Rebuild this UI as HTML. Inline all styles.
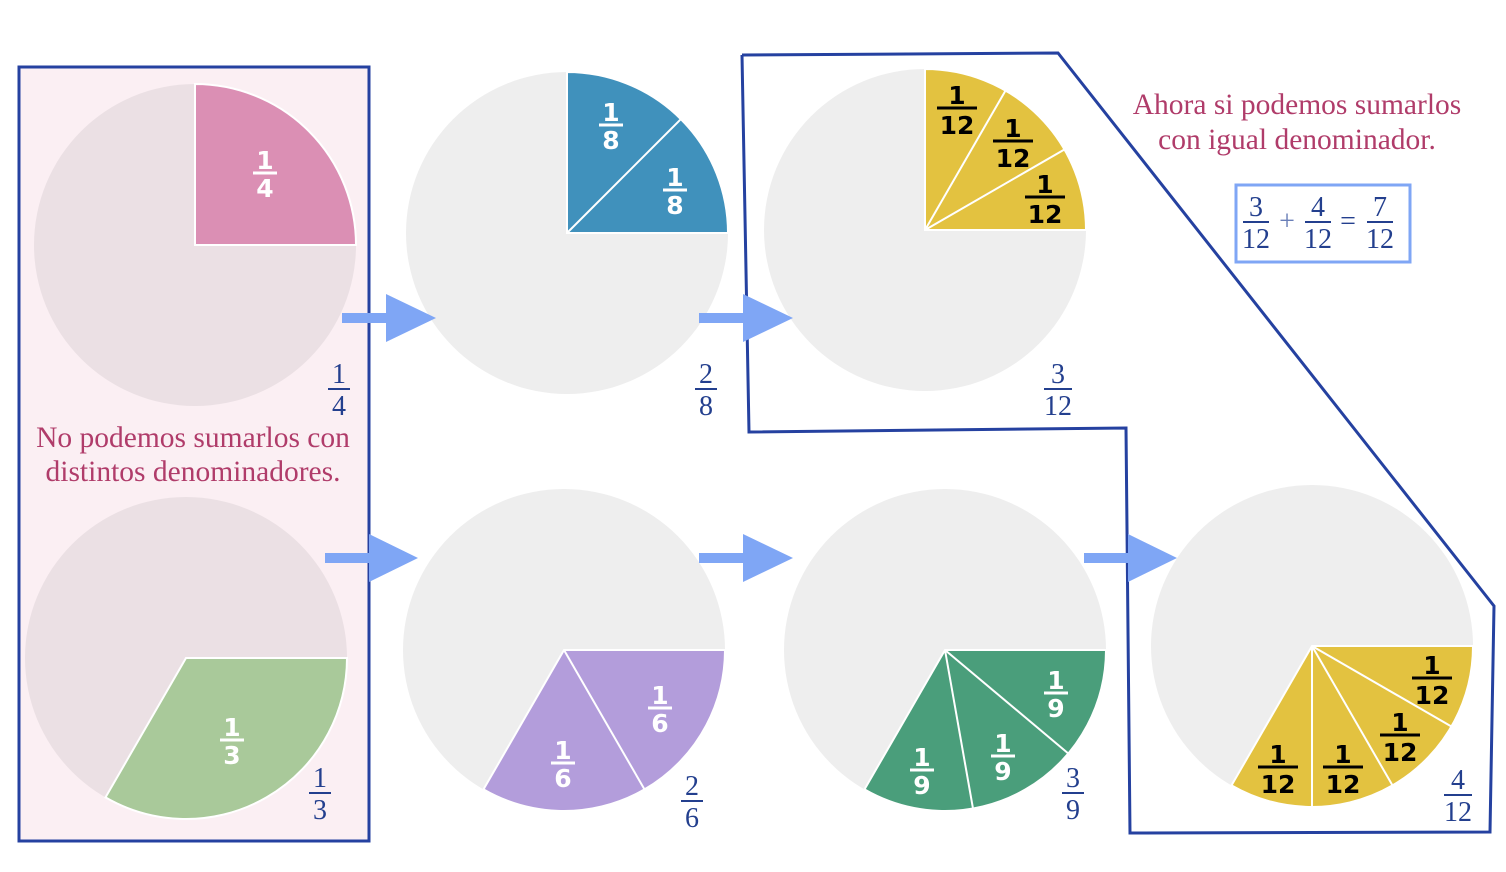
<!DOCTYPE html>
<html><head><meta charset="utf-8"><style>
html,body{margin:0;padding:0;background:#fff;}
svg{display:block;}
.w text{font-family:"DejaVu Sans",sans-serif;font-weight:bold;font-size:25px;fill:#fff;text-anchor:middle;}
.w line{stroke:#fff;stroke-width:3;}
.k text{font-family:"DejaVu Sans",sans-serif;font-weight:bold;font-size:25px;fill:#000;text-anchor:middle;}
.k line{stroke:#000;stroke-width:3;}
.n text{font-family:"Liberation Serif",serif;font-size:28px;fill:#233f8e;text-anchor:middle;}
.n line{stroke:#233f8e;stroke-width:2;}
.t{font-family:"Liberation Serif",serif;font-size:29.5px;fill:#b03c6a;text-anchor:middle;}
</style></head><body>
<svg width="1506" height="872" viewBox="0 0 1506 872" xmlns="http://www.w3.org/2000/svg">
<rect x="19" y="67" width="350" height="774" fill="#fbeff3" stroke="#2541a0" stroke-width="3"/>
<polyline points="742,55 1058,53 1494,606 1490,832 1130,833 1126,428 749,432 742,55" fill="none" stroke="#2541a0" stroke-width="3"/>

<circle cx="195" cy="245" r="161" fill="#ebe0e4"/>
<path d="M195,245 L356,245 A161,161 0 0 0 195,84 Z" fill="#db8fb4" stroke="#fff" stroke-width="2"/>
<circle cx="186" cy="658" r="161" fill="#ebe0e4"/>
<path d="M186,658 L347,658 A161,161 0 0 1 105.5,797.4 Z" fill="#a9c99a" stroke="#fff" stroke-width="2"/>

<circle cx="567" cy="233" r="161" fill="#eeeeee"/>
<path d="M567,233 L728,233 A161,161 0 0 0 567,72 Z" fill="#4091bc" stroke="#fff" stroke-width="2"/>
<line x1="567" y1="233" x2="680.8" y2="119.2" stroke="#fff" stroke-width="2"/>

<circle cx="925" cy="230" r="161" fill="#eeeeee"/>
<path d="M925,230 L1086,230 A161,161 0 0 0 925,69 Z" fill="#e3c240" stroke="#fff" stroke-width="2"/>
<line x1="925" y1="230" x2="1064.4" y2="149.5" stroke="#fff" stroke-width="2"/>
<line x1="925" y1="230" x2="1005.5" y2="90.6" stroke="#fff" stroke-width="2"/>

<circle cx="564" cy="650" r="161" fill="#eeeeee"/>
<path d="M564,650 L725,650 A161,161 0 0 1 483.5,789.4 Z" fill="#b39ddb" stroke="#fff" stroke-width="2"/>
<line x1="564" y1="650" x2="644.5" y2="789.4" stroke="#fff" stroke-width="2"/>

<circle cx="945" cy="650" r="161" fill="#eeeeee"/>
<path d="M945,650 L1106,650 A161,161 0 0 1 864.5,789.4 Z" fill="#4a9e7b" stroke="#fff" stroke-width="2"/>
<line x1="945" y1="650" x2="1068.3" y2="753.5" stroke="#fff" stroke-width="2"/>
<line x1="945" y1="650" x2="973" y2="808.6" stroke="#fff" stroke-width="2"/>

<circle cx="1312" cy="646" r="161" fill="#eeeeee"/>
<path d="M1312,646 L1473,646 A161,161 0 0 1 1231.5,785.4 Z" fill="#e3c240" stroke="#fff" stroke-width="2"/>
<line x1="1312" y1="646" x2="1451.4" y2="726.5" stroke="#fff" stroke-width="2"/>
<line x1="1312" y1="646" x2="1392.5" y2="785.4" stroke="#fff" stroke-width="2"/>
<line x1="1312" y1="646" x2="1312" y2="807" stroke="#fff" stroke-width="2"/>

<g fill="#7fa6f5">
<rect x="342" y="313" width="48" height="10"/><polygon points="386,294 436,318 386,342"/>
<rect x="699" y="313" width="48" height="10"/><polygon points="743,294 793,318 743,342"/>
<rect x="325" y="553" width="48" height="10"/><polygon points="369,534 418,558 369,582"/>
<rect x="699" y="553" width="48" height="10"/><polygon points="743,534 793,558 743,582"/>
<rect x="1084" y="553" width="48" height="10"/><polygon points="1128,534 1177,558 1128,582"/>
</g>

<g class="w">
<g transform="translate(265,173)"><text y="-4">1</text><line x1="-12" x2="12"/><text y="24">4</text></g>
<g transform="translate(611,125)"><text y="-4">1</text><line x1="-12" x2="12"/><text y="24">8</text></g>
<g transform="translate(675,190)"><text y="-4">1</text><line x1="-12" x2="12"/><text y="24">8</text></g>
<g transform="translate(232,740)"><text y="-4">1</text><line x1="-12" x2="12"/><text y="24">3</text></g>
<g transform="translate(660,708)"><text y="-4">1</text><line x1="-12" x2="12"/><text y="24">6</text></g>
<g transform="translate(563,763)"><text y="-4">1</text><line x1="-12" x2="12"/><text y="24">6</text></g>
<g transform="translate(1056,693)"><text y="-4">1</text><line x1="-12" x2="12"/><text y="24">9</text></g>
<g transform="translate(1003,756)"><text y="-4">1</text><line x1="-12" x2="12"/><text y="24">9</text></g>
<g transform="translate(922,770)"><text y="-4">1</text><line x1="-12" x2="12"/><text y="24">9</text></g>
</g>
<g class="k">
<g transform="translate(957,108)"><text y="-4">1</text><line x1="-20" x2="20"/><text y="26">12</text></g>
<g transform="translate(1013,141)"><text y="-4">1</text><line x1="-20" x2="20"/><text y="26">12</text></g>
<g transform="translate(1045,197)"><text y="-4">1</text><line x1="-20" x2="20"/><text y="26">12</text></g>
<g transform="translate(1432,678)"><text y="-4">1</text><line x1="-20" x2="20"/><text y="26">12</text></g>
<g transform="translate(1400,735)"><text y="-4">1</text><line x1="-20" x2="20"/><text y="26">12</text></g>
<g transform="translate(1343,767)"><text y="-4">1</text><line x1="-20" x2="20"/><text y="26">12</text></g>
<g transform="translate(1278,767)"><text y="-4">1</text><line x1="-20" x2="20"/><text y="26">12</text></g>
</g>
<g class="n">
<g transform="translate(339,389)"><text y="-6">1</text><line x1="-11" x2="11"/><text y="26">4</text></g>
<g transform="translate(706,389)"><text y="-6">2</text><line x1="-11" x2="11"/><text y="26">8</text></g>
<g transform="translate(1058,389)"><text y="-6">3</text><line x1="-14" x2="14"/><text y="26">12</text></g>
<g transform="translate(320,793)"><text y="-6">1</text><line x1="-11" x2="11"/><text y="26">3</text></g>
<g transform="translate(692,801)"><text y="-6">2</text><line x1="-11" x2="11"/><text y="26">6</text></g>
<g transform="translate(1073,793)"><text y="-6">3</text><line x1="-11" x2="11"/><text y="26">9</text></g>
<g transform="translate(1458,795)"><text y="-6">4</text><line x1="-14" x2="14"/><text y="26">12</text></g>
<g transform="translate(1256,222)"><text y="-6">3</text><line x1="-13" x2="13"/><text y="26">12</text></g>
<g transform="translate(1318,222)"><text y="-6">4</text><line x1="-13" x2="13"/><text y="26">12</text></g>
<g transform="translate(1380,222)"><text y="-6">7</text><line x1="-13" x2="13"/><text y="26">12</text></g>
<text x="1287" y="230" style="fill:#6a7fb8">+</text>
<text x="1348" y="230">=</text>
</g>
<rect x="1236" y="185" width="174" height="77" fill="none" stroke="#7fa6f5" stroke-width="3"/>

<text class="t" x="193" y="447">No podemos sumarlos con</text>
<text class="t" x="193" y="481">distintos denominadores.</text>
<text class="t" x="1297" y="114">Ahora si podemos sumarlos</text>
<text class="t" x="1297" y="149">con igual denominador.</text>
</svg>
</body></html>
